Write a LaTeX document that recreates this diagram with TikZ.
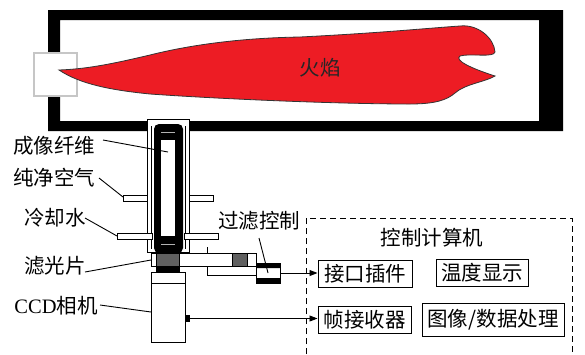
\documentclass[tikz,border=0pt]{standalone}
\usepackage{fontspec}
\setmainfont{Liberation Serif}
\newfontfamily\cjk{Noto Sans CJK SC}
\usetikzlibrary{arrows.meta}
\definecolor{flame}{HTML}{ED1C24}
\definecolor{glass}{HTML}{606060}

\begin{document}
\begin{tikzpicture}[x=1pt,y=-1pt,
  lbl/.style={font=\cjk\fontsize{20.5}{24}\selectfont, inner sep=0pt},
  unit/.style={draw, line width=1pt, fill=white, inner sep=0pt,
    font=\cjk\fontsize{20.5}{24}\selectfont},
  part/.style={line width=0.9pt},
  leader/.style={line width=0.9pt},
  link/.style={line width=0.9pt, -{Triangle[length=8pt,width=6pt]}},
]
\useasboundingbox (0,0) rectangle (585,354);

% furnace walls
\fill[black, even odd rule] (48,10) rectangle (563,131) (60,20) rectangle (539,121);
% burner window
\draw[gray!45, line width=1.5pt, fill=white] (34,53) rectangle (77,96);

% flame
\draw[fill=flame, draw=black!80, line width=0.8pt] (59,70)
  .. controls (90,69) and (120,62) .. (150,55)
  .. controls (190,45) and (240,38) .. (300,37)
  .. controls (380,33) and (430,28) .. (460,26)
  .. controls (478,24) and (494,38) .. (495,52)
  .. controls (494,58) and (470,53) .. (460,56)
  .. controls (454,60) and (470,68) .. (495,76)
  .. controls (485,82) and (465,84) .. (455,93)
  .. controls (447,100) and (435,104) .. (410,104)
  .. controls (340,104) and (220,99) .. (150,94)
  .. controls (110,90) and (80,84) .. (59,70) -- cycle;
\node[lbl, text=black!85] (flm) at (320,68) {火焰};

% probe sheath
\draw[part, fill=white] (147,119) rectangle (189,252);
\draw[part] (151,126) -- (151,249) (185,126) -- (185,249);
% purge air and cooling water pipes
\draw[part, fill=white] (123,195) rectangle (147,201);
\draw[part, fill=white] (189,195) rectangle (213,201);
\draw[part, fill=white] (117,233) rectangle (152,239);
\draw[part, fill=white] (184,233) rectangle (218,239);
% imaging fibre
\fill[black, rounded corners=5pt] (154,124) rectangle (183,253);
\fill[white] (161,140) rectangle (175,236);
\draw[gray!60, line width=0.8pt] (161,132) -- (175,132) (161,244) -- (175,244);

% filter slider
\draw[part] (207,247) -- (207,275) -- (256,275);
\draw[part, fill=white] (151,253) rectangle (256,266);
\draw[part, fill=glass] (156,253) rectangle (179,266);
\draw[part, fill=glass] (232,253) rectangle (247,266);
\fill[black] (156,266) rectangle (180,272);

% camera
\draw[part, fill=white] (151,272) rectangle (185,342);
\draw[part] (151,283) -- (185,283);
\node[fill=black, minimum width=5pt, minimum height=7pt, inner sep=0pt] (port) at (187.5,318.5) {};

% filter controller
\node[draw, line width=1pt, fill=white, minimum width=24pt, minimum height=20pt, inner sep=0pt] (fc) at (268,273) {};
\fill[black] (256,263) rectangle (280,268) (256,278) rectangle (280,283);

% control computer
\draw[line width=1pt, dash pattern=on 6pt off 4pt] (306,354) -- (306,218) -- (572,218) -- (572,354);
\node[lbl] (pc) at (432,238) {控制计算机};
\node[unit, minimum width=94pt, minimum height=27pt] (ifc) at (365,273.5) {接口插件};
\node[unit, minimum width=92pt, minimum height=27pt] (tmp) at (482,272.5) {温度显示};
\node[unit, minimum width=93pt, minimum height=27pt] (frm) at (364.5,319.5) {帧接收器};
\node[unit, minimum width=142pt, minimum height=33pt] (img) at (493,319.5) {图像/数据处理};

\draw[link] (fc.east) -- (fc.east -| ifc.west);
\draw[link] (port.east) -- (port.east -| frm.west);

% labels and leaders
\node[lbl] (fib) at (54,146) {成像纤维};
\node[lbl] (air) at (54,178) {纯净空气};
\node[lbl] (wat) at (55,218) {冷却水};
\node[lbl] (flt) at (55,266) {滤光片};
\node[lbl] (ccd) at (56,306) {{\rmfamily CCD}相机};
\node[lbl] (ctl) at (259,221) {过滤控制};

\coordinate (fibS) at (103,140);
\coordinate (fibE) at (168,152);
\coordinate (airS) at (99,178);
\coordinate (airE) at (123,197);
\coordinate (watS) at (85,218);
\coordinate (watE) at (117,236);
\coordinate (fltS) at (85,272);
\coordinate (fltE) at (151,260);
\coordinate (ccdS) at (100,305);
\coordinate (ccdE) at (151,312);
\coordinate (ctlS) at (259,238);

\draw[leader] (fibS) -- (fibE);
\draw[leader] (airS) -- (airE);
\draw[leader] (watS) -- (watE);
\draw[leader] (fltS) -- (fltE);
\draw[leader] (ccdS) -- (ccdE);
\draw[leader] (ctlS) -- (fc.center);
\end{tikzpicture}
\end{document}
